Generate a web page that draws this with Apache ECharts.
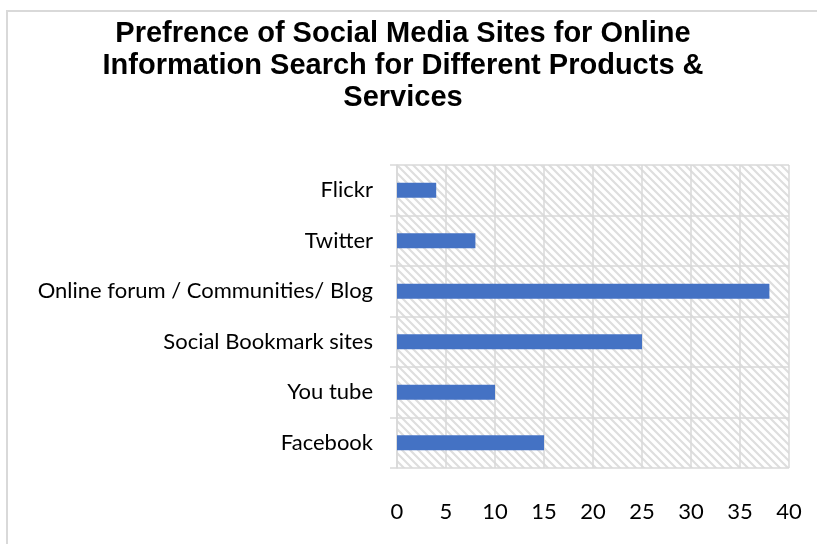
<!DOCTYPE html>
<html><head><meta charset="utf-8">
<script src="https://cdn.jsdelivr.net/npm/echarts@6/dist/echarts.min.js"></script>
<style>html,body{margin:0;padding:0;background:#fff}#c{width:817px;height:544px}</style>
</head><body><div id="c"></div>
<script>
var categories = ['Facebook', 'You tube', 'Social Bookmark sites', 'Online forum / Communities/ Blog', 'Twitter', 'Flickr'];
var values = [15, 10, 25, 38, 8, 4];
var titleText = 'Prefrence of Social Media Sites for Online\nInformation Search for Different Products &\nServices';

var pc = document.createElement('canvas');
pc.width = 8; pc.height = 8;
var ctx = pc.getContext('2d');
ctx.fillStyle = '#ffffff'; ctx.fillRect(0,0,8,8);
ctx.strokeStyle = '#dedede'; ctx.lineWidth = 2.2;
ctx.beginPath();
ctx.moveTo(-2,-2); ctx.lineTo(10,10);
ctx.moveTo(-10,-2); ctx.lineTo(2,10);
ctx.moveTo(6,-2); ctx.lineTo(18,10);
ctx.stroke();

var chart = echarts.init(document.getElementById('c'), null, {renderer: 'canvas'});
chart.setOption({
  animation: false,
  backgroundColor: '#fff',
  title: {
    text: titleText,
    left: 398, top: 13, textAlign: 'center',
    textStyle: {fontFamily: 'Liberation Sans, Arial', fontWeight: 'bold', fontSize: 29, lineHeight: 32, color: '#000'}
  },
  graphic: [{
    type: 'rect', shape: {x: 7, y: 11, width: 900, height: 700},
    style: {fill: 'none', stroke: '#d9d9d9', lineWidth: 2}, silent: true, z: -1
  }],
  grid: {left: 397, right: 28, top: 165, bottom: 76, show: true, borderWidth: 0,
    backgroundColor: {image: pc, repeat: 'repeat'}},
  xAxis: {
    type: 'value', min: 0, max: 40, interval: 5,
    axisLine: {show: false}, axisTick: {show: false},
    splitLine: {show: true, lineStyle: {color: '#d9d9d9', width: 1.5}},
    axisLabel: {margin: 33, fontFamily: 'Lato', fontSize: 22, color: '#000'}
  },
  yAxis: {
    type: 'category', data: categories,
    axisLine: {show: true, lineStyle: {color: '#d9d9d9', width: 1.5}},
    axisTick: {show: true, length: 7, lineStyle: {color: '#d9d9d9', width: 1.5}},
    splitLine: {show: true, lineStyle: {color: '#d9d9d9', width: 1.5}},
    axisLabel: {margin: 24, fontFamily: 'Lato', fontSize: 22, color: '#000'}
  },
  series: [{
    type: 'bar', data: values, barWidth: 15,
    itemStyle: {color: '#4472C4'}
  }]
});
</script></body></html>
